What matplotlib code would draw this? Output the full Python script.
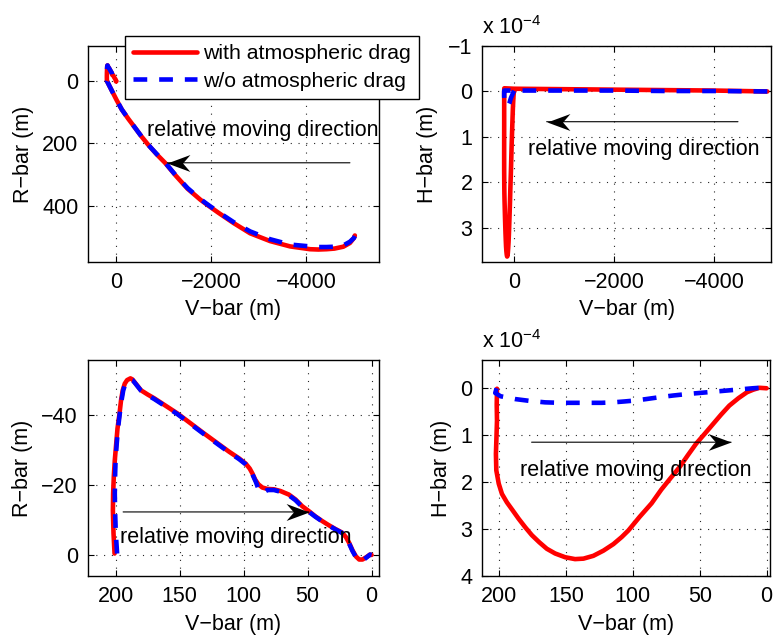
import matplotlib
matplotlib.use('Agg')
import matplotlib.pyplot as plt
from matplotlib.path import Path

plt.rcParams['font.family'] = ['Liberation Sans', 'DejaVu Sans']
plt.rcParams['font.size'] = 15.5
plt.rcParams['mathtext.default'] = 'regular'

# far-field leg of the approach (V-bar, R-bar), from the far end back to ~200 m
far_v_r = [-5030, -5010, -4926, -4786, -4600, -4435, -4260, -4084, -3663, -3242, -2821, -2470, -2150,
           -1909, -1768, -1500, -1250, -1025, -850, -674, -530, -394, -250, -112, 0, 100, 200]
far_r_drag = [495, 503, 519, 531, 537, 539, 540, 539, 530, 513, 488, 455, 422,
              396, 380, 345, 303, 262, 235, 205, 178, 150, 121, 91, 60, 30, 0]
far_r_nodrag = [497, 503, 515, 527, 531, 532, 532, 530, 524, 507, 482, 452, 420,
                394, 378, 343, 302, 261, 234, 205, 178, 150, 121, 91, 60, 30, 0]

# near-field leg (last 200 m), R-bar
near_v_r_drag = [201.0, 201.8, 202.3, 202.1, 201.6, 200.8, 199.7, 198.7, 197.1, 195.9, 194.6, 193.0,
                 191.2, 188.6, 187.0, 185.5, 182.9, 180.3, 175.1, 169.9, 151.8, 131.0, 111.4, 103.6,
                 98.4, 95.3, 93.2, 91.1, 88.5, 85.4, 81.5, 76.4, 71.2, 64.7, 59.5, 54.3, 49.1, 44.0,
                 38.8, 33.6, 28.4, 23.2, 20.1, 17.5, 14.9, 12.3, 9.7, 7.1, 4.6, 1.2, 0.0]
near_r_drag = [-0.4, -6.1, -12.7, -17.5, -22.2, -27.0, -31.7, -36.0, -40.3, -44.1, -46.9, -48.8,
               -49.8, -50.3, -50.0, -49.3, -48.1, -46.9, -45.7, -44.6, -40.3, -34.6, -29.4, -27.5,
               -26.0, -24.6, -23.2, -21.5, -20.1, -19.2, -18.8, -18.7, -18.2, -17.2, -15.8, -13.9, -12.5, -11.0,
               -9.7, -8.5, -7.4, -6.4, -5.1, -3.4, -1.3, 0.4, 1.3, 1.3, 0.75, -0.1, 0.0]
near_v_r_nodrag = [199.0, 200.0, 200.6, 200.8, 200.6, 200.2, 199.3, 198.3, 196.9, 195.5, 194.2, 192.5,
                   190.9, 188.6, 187.0, 185.5, 182.9, 180.3, 175.1, 169.9, 151.8, 131.0, 111.4, 103.6,
                   98.4, 95.3, 93.2, 90.5, 88.5, 86.7, 84.5, 81.5, 76.4, 71.2, 64.7, 59.5, 54.3, 49.1,
                   44.0, 38.8, 33.6, 28.4, 23.2, 20.1, 17.5, 14.9, 12.3, 9.7, 7.1, 4.6, 1.2, 0.0]
near_r_nodrag = [-0.4, -6.1, -12.7, -17.5, -22.2, -27.0, -31.7, -36.0, -40.3, -44.1, -46.9, -48.8,
                 -49.6, -50.0, -49.8, -49.2, -48.0, -46.8, -45.5, -44.4, -40.1, -34.4, -29.2, -27.3,
                 -25.8, -24.4, -23.0, -20.8, -18.8, -17.7, -17.8, -18.5, -18.5, -18.0, -17.0, -15.6, -13.7,
                 -12.3, -10.9, -9.6, -8.4, -7.3, -6.3, -5.0, -3.2, -1.1, 0.6, 1.6, 1.6, 0.9, -0.1, 0.0]

# H-bar (units of 1e-4 m)
far_v_h = [-5060, -4000, -3000, -2000, -1000, 0, 200]
far_h_drag = [0.0, -0.02, -0.03, -0.04, -0.05, -0.06, -0.07]
far_h_nodrag = [0.0, -0.01, -0.01, -0.02, -0.02, -0.02, -0.02]

near_v_h_drag = [201.7, 201.9, 201.7, 202.1, 202.5, 202.2, 200.4, 198.0, 194.3, 190.0, 185.5, 180.6,
                 175.6, 170.1, 164.4, 158.2, 150.7, 143.3, 137.0, 129.6, 122.1, 114.6, 108.4, 103.4,
                 95.0, 86.0, 78.8, 72.0, 65.1, 59.0, 52.7, 46.0, 40.0, 34.0, 27.9, 21.0, 14.7, 10.0,
                 5.4, 0.0]
near_h_drag = [0.01, 0.35, 0.69, 1.05, 1.40, 1.75, 2.03, 2.25, 2.43, 2.60, 2.78, 2.96,
               3.13, 3.28, 3.42, 3.52, 3.60, 3.64, 3.63, 3.57, 3.46, 3.32, 3.17, 3.03,
               2.74, 2.45, 2.16, 1.92, 1.68, 1.43, 1.18, 0.96, 0.76, 0.56, 0.37, 0.21, 0.085, 0.03,
               -0.01, 0.0]
near_v_h_nodrag = [202.0, 203.0, 199.0, 188.1, 177.0, 165.7, 154.5, 143.3, 133.4, 123.4, 114.7, 106.0,
                   98.0, 90.0, 80.0, 70.1, 60.2, 50.2, 40.3, 30.3, 20.4, 10.4, 0.4]
near_h_nodrag = [0.0, 0.10, 0.17, 0.23, 0.27, 0.30, 0.31, 0.31, 0.31, 0.31, 0.30, 0.28,
                 0.26, 0.23, 0.19, 0.155, 0.125, 0.10, 0.075, 0.05, 0.025, 0.0, -0.02]

labels = ['with atmospheric drag', 'w/o atmospheric drag']
MINUS = '\u2212'

# arrow head with a swept-back tail, tip sits on the marker centre
HEAD_LEFT = Path([(0, 0), (1, 0.37), (0.68, 0), (1, -0.37), (0, 0)],
                 [Path.MOVETO, Path.LINETO, Path.LINETO, Path.LINETO, Path.CLOSEPOLY])
HEAD_RIGHT = Path([(0, 0), (-1, 0.37), (-0.68, 0), (-1, -0.37), (0, 0)],
                  [Path.MOVETO, Path.LINETO, Path.LINETO, Path.LINETO, Path.CLOSEPOLY])


def style_axes(ax, xticks, yticks, xlim, ylim, ylabel, ylab_x, xlab_y):
    ax.set_xlim(*xlim)
    ax.set_ylim(*ylim)
    ax.set_xticks(xticks)
    ax.set_yticks(yticks)
    ax.tick_params(direction='in', top=True, right=True, length=4, width=0.8, pad=7)
    ax.grid(True, linestyle=(0, (1, 6)), color='0.15', linewidth=0.8)
    for s in ax.spines.values():
        s.set_linewidth(1.0)
    ax.set_xlabel('V' + MINUS + 'bar (m)')
    ax.set_ylabel(ylabel)
    ax.yaxis.set_label_coords(ylab_x, 0.5)
    ax.xaxis.set_label_coords(0.5, xlab_y)


def draw(ax, v1, y1, v2, y2):
    ax.plot(v1, y1, color='red', lw=3.3, solid_joinstyle='round', solid_capstyle='round')
    ax.plot(v2, y2, color='blue', lw=3.3, dashes=(3, 2.6))


def arrow(ax, tail, head, txt_xy, head_marker):
    ax.annotate('', xy=head, xytext=tail,
                arrowprops=dict(arrowstyle='-', color='black', lw=0.8, shrinkA=0, shrinkB=0))
    ax.plot([head[0]], [head[1]], marker=head_marker, ms=33, color='black', mew=0)
    ax.text(txt_xy[0], txt_xy[1], 'relative moving direction', ha='left', va='center')


fig = plt.figure(figsize=(7.74, 6.35), dpi=100)
ax1 = fig.add_axes([0.1137, 0.5874, 0.376, 0.340])
ax2 = fig.add_axes([0.6231, 0.5874, 0.373, 0.340])
ax3 = fig.add_axes([0.1133, 0.0929, 0.3767, 0.340])
ax4 = fig.add_axes([0.6231, 0.0929, 0.372, 0.340])

# full trajectory, R-bar
draw(ax1, far_v_r + near_v_r_drag, far_r_drag + near_r_drag,
     far_v_r + near_v_r_nodrag, far_r_nodrag + near_r_nodrag)
style_axes(ax1, [0, -2000, -4000], [0, 200, 400], (600, -5540), (580, -112),
           'R' + MINUS + 'bar (m)', -0.187, -0.17)
arrow(ax1, (-4926, 262), (-1074, 262), (-653, 157), HEAD_LEFT)
ax1.legend(ax1.get_lines()[:2], labels, loc='upper left', bbox_to_anchor=(125 / 774, 1 - 36 / 635),
           bbox_transform=fig.transFigure, borderaxespad=0, fancybox=False, framealpha=1,
           edgecolor='black', handlelength=3.0, handletextpad=0.3, borderpad=0.38,
           labelspacing=0.4, fontsize=15.3)
ax1.get_legend().get_frame().set_linewidth(1.0)

# full trajectory, H-bar
draw(ax2, far_v_h + near_v_h_drag, far_h_drag + near_h_drag,
     far_v_h + near_v_h_nodrag, far_h_nodrag + near_h_nodrag)
style_axes(ax2, [0, -2000, -4000], [-1, 0, 1, 2, 3], (640, -5134), (3.76, -1),
           'H' + MINUS + 'bar (m)', -0.152, -0.17)
arrow(ax2, (-4474, 0.667), (-648, 0.667), (-274, 1.28), HEAD_LEFT)
ax2.text(0, 1.054, r'x 10$^{' + MINUS + '4}$', transform=ax2.transAxes, va='baseline')

# last 200 m, R-bar
draw(ax3, near_v_r_drag, near_r_drag, near_v_r_nodrag, near_r_nodrag)
style_axes(ax3, [200, 150, 100, 50, 0], [-40, -20, 0], (222, -6), (6, -55.5),
           'R' + MINUS + 'bar (m)', -0.187, -0.175)
arrow(ax3, (194.3, -12.25), (49.1, -12.25), (196.9, -4.96), HEAD_RIGHT)

# last 200 m, H-bar
draw(ax4, near_v_h_drag, near_h_drag, near_v_h_nodrag, near_h_nodrag)
style_axes(ax4, [200, 150, 100, 50, 0], [0, 1, 2, 3, 4], (212.7, -2.7), (4, -0.6),
           'H' + MINUS + 'bar (m)', -0.106, -0.175)
arrow(ax4, (175.8, 1.149), (26.6, 1.149), (184.5, 1.75), HEAD_RIGHT)
ax4.text(0, 1.054, r'x 10$^{' + MINUS + '4}$', transform=ax4.transAxes, va='baseline')

fig.savefig('out.png', dpi=100)
